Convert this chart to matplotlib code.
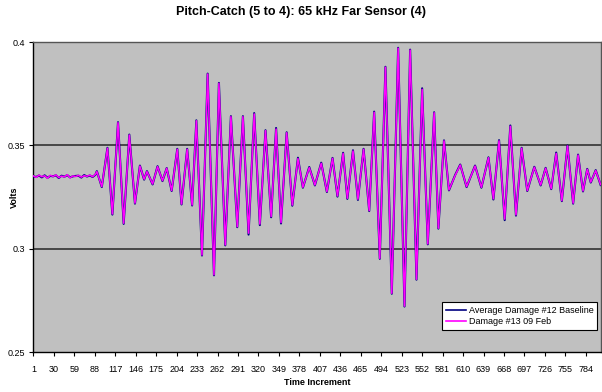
import matplotlib
matplotlib.use("Agg")
import matplotlib.pyplot as plt

plt.rcParams['font.family'] = ['Liberation Sans', 'DejaVu Sans']

title = "Pitch-Catch (5 to 4): 65 kHz Far Sensor (4)"
x_label = "Time Increment"
y_label = "Volts"
series_names = ["Average Damage #12 Baseline", "Damage #13 09 Feb"]
n_samples = 805
x_tick_labels = [1, 30, 59, 88, 117, 146, 175, 204, 233, 262, 291, 320, 349, 378,
                 407, 436, 465, 494, 523, 552, 581, 610, 639, 668, 697, 726, 755, 784]
y_ticks = [0.25, 0.3, 0.35, 0.4]

# sample index of each read-off point (noise segment, then waveform extrema)
samples = [1, 5, 9, 13, 17, 21, 25, 29, 33, 37, 41, 45, 49, 53, 57, 61, 65, 69, 73, 77,
           81, 85, 89,
           91, 98, 106, 113, 121, 129, 137, 145, 152, 158, 162, 170, 177, 184, 190, 197,
           205, 211, 219, 226, 232, 240, 248, 257, 264, 273, 281, 290, 298, 306, 314, 322,
           330, 338, 345, 352, 360, 368, 376, 383, 392, 400, 409, 417, 425, 432, 440, 446,
           454, 461, 469, 477, 484, 492, 500, 509, 518, 527, 535, 544, 552, 560, 569, 575,
           583, 590, 599, 606, 615, 627, 636, 646, 653, 661, 669, 677, 685, 693, 701, 711,
           720, 727, 735, 742, 750, 758, 766, 773, 780, 786, 791, 798, 805]

baseline_volts = [0.3350, 0.3347, 0.3354, 0.3345, 0.3355, 0.3343, 0.3352, 0.3350, 0.3355,
                  0.3342, 0.3353, 0.3348, 0.3356, 0.3345, 0.3350, 0.3352, 0.3353, 0.3344,
                  0.3356, 0.3349, 0.3354, 0.3347, 0.3358,
                  0.3375, 0.3298, 0.3488, 0.3165, 0.3612, 0.3120, 0.3552, 0.3218, 0.3402,
                  0.3334, 0.3375, 0.3311, 0.3399, 0.3327, 0.3390, 0.3279, 0.3483, 0.3214,
                  0.3483, 0.3209, 0.3621, 0.2967, 0.3847, 0.2871, 0.3802, 0.3016, 0.3641,
                  0.3104, 0.3641, 0.3068, 0.3656, 0.3114, 0.3573, 0.3152, 0.3584, 0.3122,
                  0.3563, 0.3208, 0.3440, 0.3295, 0.3395, 0.3306, 0.3416, 0.3274, 0.3439,
                  0.3252, 0.3464, 0.3241, 0.3476, 0.3236, 0.3483, 0.3182, 0.3663, 0.2951,
                  0.3880, 0.2782, 0.3972, 0.2720, 0.3963, 0.2850, 0.3776, 0.3021, 0.3660,
                  0.3097, 0.3524, 0.3282, 0.3358, 0.3407, 0.3298, 0.3402, 0.3295, 0.3442,
                  0.3238, 0.3525, 0.3138, 0.3596, 0.3160, 0.3488, 0.3279, 0.3396, 0.3306,
                  0.3391, 0.3288, 0.3465, 0.3230, 0.3499, 0.3218, 0.3455, 0.3277, 0.3386,
                  0.3320, 0.3380, 0.3308]

damage_volts = [0.3352, 0.3345, 0.3356, 0.3348, 0.3353, 0.3341, 0.3355, 0.3349, 0.3357,
                0.3344, 0.3351, 0.3347, 0.3358, 0.3343, 0.3352, 0.3349, 0.3355, 0.3346,
                0.3353, 0.3350, 0.3356, 0.3348, 0.3360,
                0.3373, 0.3300, 0.3486, 0.3168, 0.3610, 0.3123, 0.3550, 0.3220, 0.3400,
                0.3336, 0.3373, 0.3313, 0.3397, 0.3329, 0.3389, 0.3281, 0.3481, 0.3216,
                0.3481, 0.3211, 0.3619, 0.2969, 0.3845, 0.2873, 0.3800, 0.3018, 0.3639,
                0.3106, 0.3639, 0.3075, 0.3652, 0.3119, 0.3571, 0.3155, 0.3579, 0.3126,
                0.3561, 0.3211, 0.3436, 0.3297, 0.3392, 0.3308, 0.3413, 0.3276, 0.3437,
                0.3255, 0.3461, 0.3244, 0.3473, 0.3239, 0.3481, 0.3184, 0.3660, 0.2953,
                0.3878, 0.2784, 0.3970, 0.2722, 0.3961, 0.2852, 0.3771, 0.3023, 0.3658,
                0.3099, 0.3522, 0.3284, 0.3356, 0.3405, 0.3300, 0.3400, 0.3297, 0.3440,
                0.3241, 0.3522, 0.3143, 0.3592, 0.3163, 0.3486, 0.3281, 0.3394, 0.3308,
                0.3389, 0.3290, 0.3461, 0.3232, 0.3497, 0.3220, 0.3453, 0.3279, 0.3384,
                0.3322, 0.3378, 0.3310]

fig = plt.figure(figsize=(6.02, 3.92), dpi=100)
fig.patch.set_facecolor('white')
ax = fig.add_axes([33 / 602, 1 - 352 / 392, 568 / 602, 310 / 392])
ax.set_facecolor('#C0C0C0')

ax.plot(samples, baseline_volts, color='#000080', lw=1.5, label=series_names[0],
        zorder=3, solid_joinstyle='round')
ax.plot(samples, damage_volts, color='#FF00FF', lw=1.1, label=series_names[1],
        zorder=4, solid_joinstyle='round')

ax.set_xlim(0.5, n_samples + 0.5)
ax.set_ylim(0.25, 0.4)
ax.set_yticks(y_ticks)
ax.set_yticklabels(['0.25', '0.3', '0.35', '0.4'], fontsize=6.5)
ax.set_xticks(x_tick_labels)
ax.set_xticklabels([str(v) for v in x_tick_labels], fontsize=6.5)
ax.tick_params(axis='both', direction='out', length=3, width=0.8, colors='black', pad=3)
ax.tick_params(axis='x', pad=6)

for yv in [0.3, 0.35, 0.4]:
    ax.axhline(yv, color='#333333', lw=1.2, zorder=1)

for side in ['left', 'bottom']:
    ax.spines[side].set_color('black')
    ax.spines[side].set_linewidth(1.0)
for side in ['top', 'right']:
    ax.spines[side].set_color('#555555')
    ax.spines[side].set_linewidth(1.0)

ax.set_xlabel(x_label, fontsize=6.5, fontweight='bold', labelpad=3)
fig.text(14 / 602, 1 - 197 / 392, y_label, rotation=90, ha='center', va='center',
         fontsize=6.5, fontweight='bold')
fig.text(0.5, 1 - 12 / 392, title, ha='center', va='center', fontsize=9, fontweight='bold')

leg = ax.legend(loc='lower right', bbox_to_anchor=(0.993, 0.071), fontsize=6.5,
                frameon=True, fancybox=False, edgecolor='black', framealpha=1,
                handlelength=2.2, handletextpad=0.3, borderpad=0.4, labelspacing=0.3,
                borderaxespad=0)
leg.get_frame().set_linewidth(0.8)
for line in leg.get_lines():
    line.set_linewidth(1.2)

fig.savefig('out.png', dpi=100, facecolor='white')
